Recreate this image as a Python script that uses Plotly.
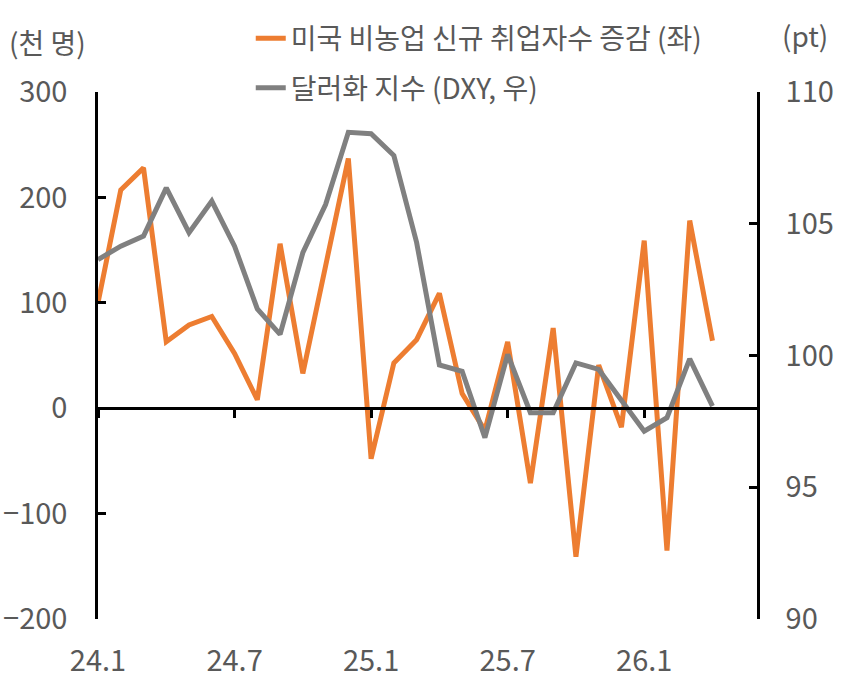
import plotly.graph_objects as go

# 월별 카테고리 (24.1 ~ 26.4)
months = [f"{y}.{m}" for y in (24, 25, 26) for m in range(1, 13)][:28]

# 미국 비농업 신규 취업자수 증감 (천 명, 좌)
nfp = [100, 207, 228, 63, 79, 87, 52, 8, 156, 33, 135, 237,
       -48, 43, 65, 109, 14, -21, 63, -71, 76, -141, 41, -18,
       159, -135, 178, 64]

# 달러화 지수 (DXY, pt, 우)
dxy = [103.64, 104.15, 104.53, 106.36, 104.66, 105.86, 104.15, 101.77,
       100.80, 103.90, 105.73, 108.47, 108.42, 107.59, 104.29, 99.64,
       99.40, 96.88, 100.04, 97.83, 97.83, 99.72, 99.47, 98.33,
       97.13, 97.64, 99.87, 98.08]

tick_months = ["24.1", "24.7", "25.1", "25.7", "26.1"]
left_ticks = [-200, -100, 0, 100, 200, 300]
right_ticks = [90, 95, 100, 105, 110]

FONT = "Noto Sans CJK KR"
TXT = "#595959"

fig = go.Figure()

fig.add_trace(go.Scatter(
    x=months, y=nfp, mode="lines",
    name="미국 비농업 신규 취업자수 증감 (좌)",
    line=dict(color="#ED7D31", width=5),
    legendgroup="a",
))
fig.add_trace(go.Scatter(
    x=months, y=dxy, mode="lines",
    name="달러화 지수 (DXY, 우)",
    line=dict(color="#808080", width=5),
    xaxis="x2", yaxis="y2",
    legendgroup="b",
))

axis_font = dict(family=FONT, size=29, color=TXT)

fig.update_layout(
    width=850, height=683,
    margin=dict(l=98, r=92, t=92, b=64, autoexpand=False),
    plot_bgcolor="white", paper_bgcolor="white",
    font=dict(family=FONT, color=TXT),
    showlegend=True,
    legend=dict(
        xref="container", yref="container",
        x=0.295, y=0.98, xanchor="left", yanchor="top",
        font=dict(family=FONT, size=28, color=TXT),
        tracegroupgap=10, bgcolor="rgba(0,0,0,0)",
    ),
    xaxis=dict(
        type="category", categoryorder="array", categoryarray=months,
        range=[0, 29], showline=False, showgrid=False, zeroline=False,
        ticks="", tickvals=tick_months, ticktext=tick_months,
        tickfont=axis_font, ticklabelstandoff=22, automargin=False,
    ),
    xaxis2=dict(
        type="category", categoryorder="array", categoryarray=months,
        range=[0, 29], overlaying="x", anchor="free", position=0.4,
        showline=True, linecolor="black", linewidth=2.5,
        showgrid=False, zeroline=False,
        ticks="outside", ticklen=8, tickwidth=2.5, tickcolor="black",
        tickvals=tick_months, showticklabels=False, automargin=False,
    ),
    yaxis=dict(
        range=[-200, 300], tickvals=left_ticks,
        showline=True, linecolor="black", linewidth=2.5,
        showgrid=False, zeroline=False,
        ticks="inside", ticklen=8, tickwidth=2.5, tickcolor="black",
        tickfont=axis_font, ticklabelstandoff=22, automargin=False,
    ),
    yaxis2=dict(
        range=[90, 110], tickvals=right_ticks,
        overlaying="y", side="right", anchor="free", position=1,
        showline=True, linecolor="black", linewidth=2.5,
        showgrid=False, zeroline=False,
        ticks="inside", ticklen=8, tickwidth=2.5, tickcolor="black",
        tickfont=axis_font, ticklabelstandoff=20, automargin=False,
    ),
    annotations=[
        dict(text="(천 명)", xref="paper", yref="paper", x=-0.076, y=1.095,
             xanchor="center", yanchor="middle",
             showarrow=False, font=dict(family=FONT, size=28, color=TXT)),
        dict(text="(pt)", xref="paper", yref="paper", x=1.071, y=1.108,
             xanchor="center", yanchor="middle",
             showarrow=False, font=dict(family=FONT, size=28, color=TXT)),
    ],
)

# 브라우저 기본 body 여백 제거, 모드바 숨김
fig.write_html(
    "out.html",
    config={"displayModeBar": False},
    post_script="document.body.style.margin='0';",
)
